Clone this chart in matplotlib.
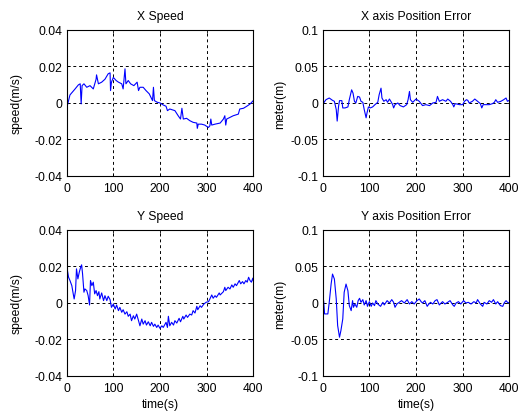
import numpy as np
import matplotlib.pyplot as plt

# X speed samples (time in s, speed in m/s)
xs_t = [0, 1, 7, 18, 25, 29, 31, 33, 37, 43, 50, 57, 63, 64, 68, 75, 82, 89, 93, 94,
        96, 100, 106, 111, 118, 121, 125, 127, 132, 137, 144, 151, 154, 157, 164, 170,
        177, 184, 186, 188, 194, 200, 207, 213, 216, 221, 232, 239, 244, 247, 250, 257,
        264, 271, 279, 280, 282, 289, 296, 300, 304, 307, 309, 311, 318, 329, 336, 339,
        341, 343, 350, 357, 368, 371, 379, 386, 393, 400]
xs_v = [0.0022, -0.0018, 0.0044, 0.0077, 0.0099, 0.0105, -0.0005, 0.0095, 0.0105, 0.0086,
        0.0095, 0.0077, 0.0130, 0.0154, 0.0105, 0.0114, 0.0130, 0.0160, 0.0165, 0.0068,
        0.0114, 0.0140, 0.0123, 0.0114, 0.0105, 0.0077, 0.0187, 0.0105, 0.0123, 0.0105,
        0.0095, 0.0114, 0.0068, 0.0086, 0.0086, 0.0068, 0.0050, 0.0013, 0.0086, 0.0013,
        0.0004, 0.0, -0.0011, -0.0018, -0.0042, -0.0033, -0.0042, -0.0070, -0.0088, -0.0029,
        -0.0088, -0.0084, -0.0097, -0.0106, -0.0110, -0.0139, -0.0116, -0.0116, -0.0121,
        -0.0128, -0.0134, -0.0125, -0.0088, -0.0121, -0.0116, -0.0110, -0.0088, -0.0070,
        -0.0121, -0.0088, -0.0079, -0.0070, -0.0061, -0.0033, -0.0029, -0.0018, -0.0006,
        0.0013]

# X axis position error (m)
xe_t = [0, 2, 7, 14, 21, 25, 29, 31, 34, 36, 41, 43, 48, 54, 57, 62, 65, 68, 71, 75, 79,
        82, 86, 89, 93, 95, 98, 102, 107, 112, 118, 121, 125, 127, 131, 136, 139, 143, 146,
        150, 152, 155, 161, 166, 173, 180, 183, 186, 188, 193, 200, 207, 214, 221, 229, 236,
        243, 246, 250, 257, 264, 268, 274, 279, 281, 284, 293, 300, 304, 308, 311, 314, 321,
        326, 332, 338, 341, 344, 350, 357, 364, 368, 371, 375, 382, 388, 393, 396, 400]
xe_v = [0.0, 0.0, 0.0045, 0.0068, 0.0036, 0.0023, -0.0090, -0.0248, -0.0045, 0.0032, 0.0032,
        -0.0068, -0.0068, -0.0054, 0.0045, 0.0180, 0.0135, 0.0023, 0.0, 0.0090, 0.0081, 0.0023,
        0.0009, -0.0090, -0.0203, -0.0135, -0.0054, -0.0068, -0.0054, -0.0023, 0.0009, 0.0113,
        0.0203, 0.0068, 0.0023, 0.0045, 0.0009, 0.0054, 0.0023, -0.0023, -0.0068, -0.0023,
        0.0, -0.0036, -0.0054, -0.0023, 0.0045, 0.0158, 0.0045, 0.0009, 0.0054, 0.0023,
        -0.0036, -0.0023, -0.0036, 0.0, 0.0009, 0.0090, 0.0023, 0.0045, 0.0023, 0.0054,
        0.0023, -0.0023, -0.0054, -0.0009, -0.0023, -0.0023, 0.0023, 0.0045, 0.0036, 0.0,
        0.0023, 0.0054, 0.0023, -0.0009, -0.0068, -0.0023, -0.0023, -0.0023, -0.0009, 0.0009,
        0.0045, 0.0009, 0.0023, 0.0045, 0.0068, 0.0023, 0.0036]

# Y speed samples
ys_t = [0, 1, 4, 7, 11, 14, 16, 19, 21, 24, 27, 30, 32, 34, 37, 39, 43, 46, 49, 51, 54, 57,
        60, 63, 66, 69, 71, 75, 79, 82, 86, 89, 93, 96, 100, 104, 107, 111, 114, 118, 121,
        125, 129, 132, 136, 139, 143, 146, 150, 154, 157, 161, 164, 168, 171, 175, 179, 182,
        186, 189, 193, 196, 200, 204, 207, 213, 216, 218, 221, 225, 229, 232, 236, 241, 244,
        249, 251, 256, 259, 264, 268, 271, 275, 279, 281, 286, 289, 294, 299, 304, 307, 311,
        314, 318, 321, 327, 329, 336, 339, 341, 346, 350, 354, 357, 361, 364, 370, 373, 377,
        380, 384, 387, 390, 393, 396, 399, 400]
ys_v = [-0.0033, 0.0187, 0.0141, 0.0123, 0.0095, 0.0050, 0.0022, 0.0068, 0.0187, 0.0132,
        0.0169, 0.0196, 0.0209, 0.0160, 0.0059, 0.0077, 0.0068, 0.0040, -0.0011, 0.0123,
        0.0095, 0.0114, 0.0050, 0.0068, 0.0040, 0.0062, 0.0022, 0.0055, 0.0013, 0.0040,
        0.0013, 0.0037, 0.0018, -0.0024, -0.0006, -0.0033, -0.0011, -0.0042, -0.0024,
        -0.0051, -0.0037, -0.0061, -0.0048, -0.0073, -0.0061, -0.0097, -0.0070, -0.0088,
        -0.0061, -0.0097, -0.0125, -0.0088, -0.0116, -0.0097, -0.0121, -0.0103, -0.0125,
        -0.0106, -0.0128, -0.0116, -0.0134, -0.0121, -0.0139, -0.0125, -0.0134, -0.0106,
        -0.0134, -0.0073, -0.0125, -0.0106, -0.0121, -0.0097, -0.0110, -0.0084, -0.0103,
        -0.0073, -0.0088, -0.0066, -0.0079, -0.0061, -0.0066, -0.0042, -0.0055, -0.0018,
        -0.0037, -0.0015, -0.0024, -0.0006, 0.0004, 0.0007, 0.0022, 0.0044, 0.0026, 0.0040,
        0.0031, 0.0055, 0.0044, 0.0062, 0.0086, 0.0068, 0.0086, 0.0077, 0.0099, 0.0086,
        0.0105, 0.0095, 0.0123, 0.0105, 0.0117, 0.0105, 0.0123, 0.0114, 0.0141, 0.0123,
        0.0114, 0.0136, 0.0123]

# Y axis position error (m)
ye_t = [0, 2, 4, 11, 14, 18, 21, 25, 29, 32, 36, 39, 43, 46, 50, 54, 57, 61, 64, 66, 69, 73,
        76, 79, 82, 86, 89, 93, 96, 100, 104, 107, 111, 114, 118, 124, 129, 132, 138, 143,
        148, 152, 155, 159, 164, 169, 175, 181, 186, 191, 196, 202, 207, 211, 214, 219, 224,
        226, 231, 236, 241, 245, 250, 254, 257, 262, 268, 273, 279, 282, 286, 291, 296, 302,
        307, 312, 318, 324, 329, 332, 338, 343, 346, 352, 357, 362, 366, 371, 375, 381, 386,
        389, 393, 396, 400]
ye_v = [0.0030, 0.0032, -0.0150, -0.0150, 0.0009, 0.0259, 0.0396, 0.0328, 0.0055, -0.0309,
        -0.0469, -0.0378, -0.0218, 0.0146, 0.0259, 0.0168, -0.0036, -0.0105, 0.0032, -0.0059,
        -0.0014, -0.0059, 0.0032, 0.0064, 0.0009, 0.0046, -0.0027, 0.0032, -0.0046, 0.0018,
        -0.0046, 0.0, -0.0036, 0.0032, -0.0014, -0.0046, 0.0009, -0.0027, 0.0032, 0.0,
        0.0046, 0.0009, -0.0059, -0.0014, 0.0009, 0.0032, 0.0, 0.0046, -0.0014, 0.0018,
        -0.0014, 0.0032, 0.0055, 0.0018, 0.0, 0.0032, -0.0046, -0.0027, 0.0009, -0.0014,
        0.0032, 0.0046, -0.0027, 0.0, 0.0018, -0.0014, 0.0009, 0.0032, -0.0027, -0.0046,
        0.0, 0.0018, -0.0014, 0.0032, 0.0, 0.0009, -0.0014, 0.0018, 0.0, 0.0046, -0.0014,
        -0.0046, 0.0009, -0.0014, 0.0032, 0.0009, 0.0046, -0.0014, 0.0018, -0.0036, -0.0046,
        0.0, 0.0032, 0.0009, 0.0]

x_ticks = [0, 100, 200, 300, 400]
speed_ticks = [-0.04, -0.02, 0, 0.02, 0.04]
speed_labels = ['-0.04', '-0.02', '0', '0.02', '0.04']
err_ticks = [-0.1, -0.05, 0, 0.05, 0.1]
err_labels = ['-0.1', '-0.05', '0', '0.05', '0.1']

plt.rcParams['font.family'] = ['Liberation Sans', 'DejaVu Sans']
plt.rcParams['font.size'] = 8.7

fig = plt.figure(figsize=(5.19, 4.14), dpi=100)

panels = [
    ([0.1285, 0.5725, 0.3595, 0.3527], xs_t, xs_v, 'X Speed', 'speed(m/s)', speed_ticks, speed_labels, False, 9),
    ([0.6218, 0.5725, 0.3595, 0.3527], xe_t, xe_v, 'X axis Position Error', 'meter(m)', err_ticks, err_labels, False, 3),
    ([0.1285, 0.0894, 0.3595, 0.3527], ys_t, ys_v, 'Y Speed', 'speed(m/s)', speed_ticks, speed_labels, True, 9),
    ([0.6218, 0.0894, 0.3595, 0.3527], ye_t, ye_v, 'Y axis Position Error', 'meter(m)', err_ticks, err_labels, True, 3),
]

for rect, t, v, title, ylab, yt, ytl, show_x, ypad in panels:
    ax = fig.add_axes(rect)
    ax.plot(t, v, color='#0000ff', lw=0.8)
    ax.set_xlim(0, 400)
    ax.set_ylim(yt[0], yt[-1])
    ax.set_xticks(x_ticks)
    ax.set_xticklabels([str(x) for x in x_ticks])
    ax.set_yticks(yt)
    ax.set_yticklabels(ytl)
    ax.grid(True, color='black', linestyle=(0, (3, 3)), lw=0.7)
    ax.tick_params(direction='in', length=2, width=0.6, top=True, right=True)
    ax.tick_params(axis='x', pad=4)
    ax.tick_params(axis='y', pad=3)
    for s in ax.spines.values():
        s.set_linewidth(0.8)
    ax.set_title(title, fontsize=8.7, pad=8)
    ax.set_ylabel(ylab, fontsize=8.7, labelpad=ypad)
    if show_x:
        ax.set_xlabel('time(s)', fontsize=8.7, labelpad=3)

fig.savefig('out.png', dpi=100)
